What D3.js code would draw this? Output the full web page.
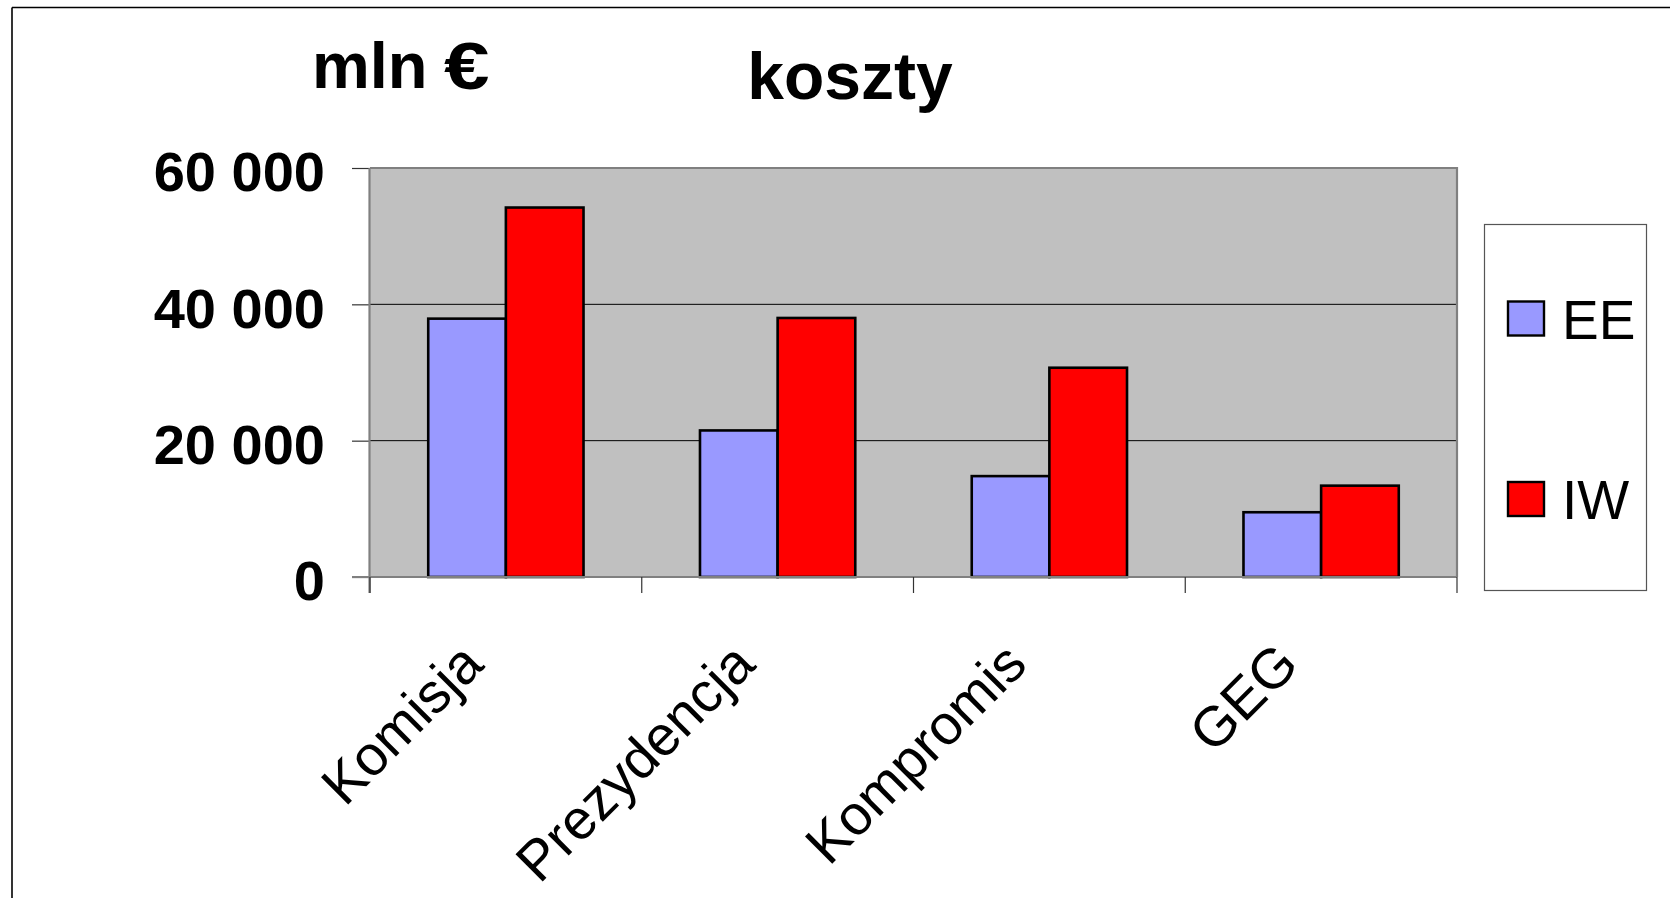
<!DOCTYPE html>
<html>
<head>
<meta charset="utf-8">
<script src="https://cdn.jsdelivr.net/npm/d3@7"></script>
<style>
  html, body { margin: 0; padding: 0; background: #fff; }
  svg { display: block; }
  text { font-family: "Liberation Sans", Arial, sans-serif; }
</style>
</head>
<body>
<svg id="chart" width="1670" height="898"></svg>
<script>
// ---- data ----
const categories = ["Komisja", "Prezydencja", "Kompromis", "GEG"];
const seriesNames = ["EE", "IW"];
const valuesEE = [37900, 21500, 14800, 9500];
const valuesIW = [54200, 38000, 30700, 13400];
const yTicks = [0, 20000, 40000, 60000];
const yTickLabels = ["0", "20 000", "40 000", "60 000"];
const seriesColors = ["#9999FF", "#FF0000"];
const titleText = "koszty";
const unitText = "mln";
const unitSymbol = "€";

// ---- layout ----
const plot = { left: 370, right: 1457, top: 168, bottom: 577 };
const svg = d3.select("#chart");

// outer frame (only top and left edges visible)
svg.append("line").attr("x1", 12).attr("x2", 1670).attr("y1", 7.5).attr("y2", 7.5)
  .attr("stroke", "#000").attr("stroke-width", 1.6);
svg.append("line").attr("x1", 12).attr("x2", 12).attr("y1", 7.5).attr("y2", 898)
  .attr("stroke", "#000").attr("stroke-width", 1.6);

const x0 = d3.scaleBand().domain(categories).range([plot.left, plot.right]).padding(0);
const bw = x0.bandwidth();
const gap = bw * 1.5 / 3.5;
const x1 = d3.scaleBand().domain(seriesNames).range([gap / 2, bw - gap / 2]).padding(0);
const y = d3.scaleLinear().domain([0, 60000]).range([plot.bottom, plot.top]);

// plot background
svg.append("rect")
  .attr("x", plot.left).attr("y", plot.top)
  .attr("width", plot.right - plot.left).attr("height", plot.bottom - plot.top)
  .attr("fill", "#C0C0C0");

// gridlines
svg.append("g").selectAll("line")
  .data(yTicks.filter(v => v > 0 && v < 60000))
  .join("line")
  .attr("x1", plot.left).attr("x2", plot.right)
  .attr("y1", d => y(d)).attr("y2", d => y(d))
  .attr("stroke", "#000").attr("stroke-width", 1);

// plot border (top, right in grey)
svg.append("path")
  .attr("d", `M${plot.left},${plot.top}H${plot.right}V${plot.bottom}`)
  .attr("fill", "none").attr("stroke", "#808080").attr("stroke-width", 2.2);

// bars
const data = categories.map((c, i) => ({ cat: c, vals: [valuesEE[i], valuesIW[i]] }));
const groups = svg.append("g").selectAll("g").data(data).join("g")
  .attr("transform", d => `translate(${x0(d.cat)},0)`);
groups.selectAll("rect")
  .data(d => d.vals.map((v, j) => ({ name: seriesNames[j], v, j })))
  .join("rect")
  .attr("x", d => x1(d.name))
  .attr("y", d => y(d.v))
  .attr("width", x1.bandwidth())
  .attr("height", d => y(0) - y(d.v))
  .attr("fill", d => seriesColors[d.j])
  .attr("stroke", "#000").attr("stroke-width", 2.6);

// y axis
const yAxis = d3.axisLeft(y).tickValues(yTicks)
  .tickFormat((d, i) => yTickLabels[i]).tickSize(18).tickPadding(27);
const gy = svg.append("g").attr("transform", `translate(${plot.left},0)`).call(yAxis);
gy.select(".domain").remove();
gy.selectAll(".tick line").attr("stroke", "#333").attr("stroke-width", 1.2);
gy.selectAll(".tick text")
  .attr("font-family", "'Liberation Sans', Arial, sans-serif")
  .attr("font-size", 56).attr("font-weight", "bold").attr("fill", "#000")
  .attr("dy", "0.41em");
svg.append("line").attr("x1", plot.left - 0.5).attr("x2", plot.left - 0.5)
  .attr("y1", plot.top).attr("y2", plot.bottom + 16)
  .attr("stroke", "#808080").attr("stroke-width", 2.2);

// x axis
const xAxis = d3.axisBottom(x0).tickSize(0).tickFormat("");
const gx = svg.append("g").attr("transform", `translate(0,${plot.bottom})`).call(xAxis);
gx.select(".domain").remove();
svg.append("line").attr("x1", plot.left - 18).attr("x2", plot.right)
  .attr("y1", plot.bottom).attr("y2", plot.bottom)
  .attr("stroke", "#808080").attr("stroke-width", 2.2);
const boundaries = categories.map(c => x0(c)).concat([plot.right]);
svg.append("g").selectAll("line").data(boundaries).join("line")
  .attr("x1", d => d).attr("x2", d => d)
  .attr("y1", plot.bottom).attr("y2", plot.bottom + 16)
  .attr("stroke", "#333").attr("stroke-width", 1.2);

// category labels, rotated
svg.append("g").selectAll("text").data(categories).join("text")
  .attr("transform", d => `translate(${x0(d) + bw / 2 - 34},${plot.bottom + 76}) rotate(-45)`)
  .attr("text-anchor", "end")
  .attr("dy", "0.35em")
  .attr("font-size", 56)
  .attr("fill", "#000")
  .text(d => d);

// titles
svg.append("text").attr("x", 312).attr("y", 88)
  .attr("font-size", 65).attr("font-weight", "bold").attr("fill", "#000")
  .text(unitText);
svg.append("text")
  .attr("transform", "translate(444,89) scale(1.22,1)")
  .attr("font-size", 67).attr("font-weight", "bold").attr("fill", "#000")
  .text(unitSymbol);
svg.append("text").attr("x", 850).attr("y", 99).attr("text-anchor", "middle")
  .attr("font-size", 66).attr("font-weight", "bold").attr("fill", "#000")
  .text(titleText);

// legend
const legend = svg.append("g");
legend.append("rect").attr("x", 1484.5).attr("y", 224.5).attr("width", 162).attr("height", 366)
  .attr("fill", "#fff").attr("stroke", "#555").attr("stroke-width", 1.2);
const legendY = [318.5, 499];
const li = legend.selectAll("g.item").data(seriesNames).join("g").attr("class", "item")
  .attr("transform", (d, i) => `translate(0,${legendY[i]})`);
li.append("rect").attr("x", 1508).attr("y", -17).attr("width", 36).attr("height", 34)
  .attr("fill", (d, i) => seriesColors[i]).attr("stroke", "#000").attr("stroke-width", 2.4);
li.append("text").attr("x", 1562).attr("y", 20)
  .attr("font-size", 55).attr("fill", "#000")
  .text(d => d);
</script>
</body>
</html>
